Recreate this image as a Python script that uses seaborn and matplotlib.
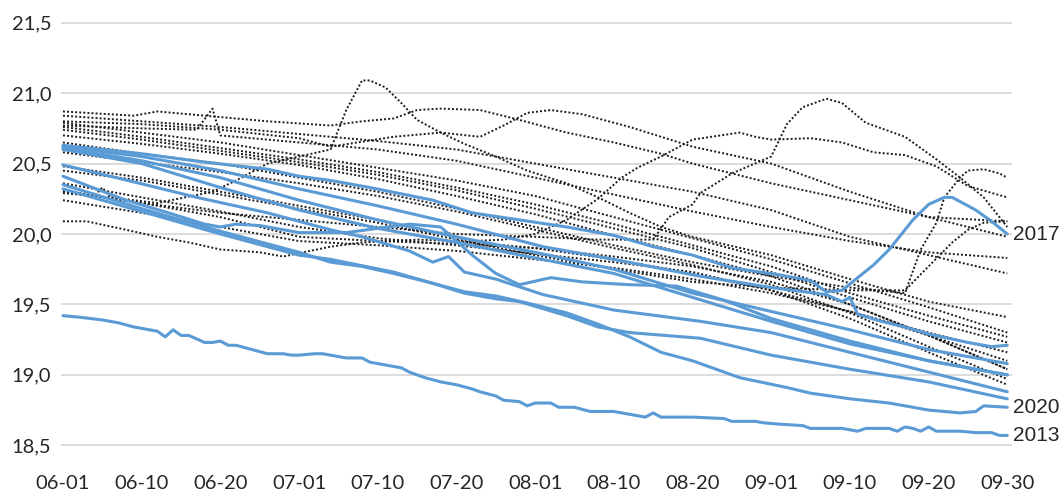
import matplotlib
matplotlib.use("Agg")
import matplotlib.pyplot as plt
import seaborn as sns

# x axis: day index from 06-01 (0) to 09-30 (120), labels every 10 steps
tick_pos = [0, 10, 20, 30, 40, 50, 60, 70, 80, 90, 100, 110, 120]
tick_labels = ['06-01', '06-10', '06-20', '07-01', '07-10', '07-20', '08-01',
               '08-10', '08-20', '09-01', '09-10', '09-20', '09-30']
y_ticks = [18.5, 19.0, 19.5, 20.0, 20.5, 21.0, 21.5]
y_labels = ['18,5', '19,0', '19,5', '20,0', '20,5', '21,0', '21,5']

# ---- highlighted years (blue) ----
x_2017 = [0, 10, 18, 26, 30, 34, 39, 47, 52, 58, 64, 70, 75, 80, 85, 91, 95, 97, 99, 101,
          103, 105, 107, 108, 110, 112, 113, 116, 118, 120]
v_2017 = [20.63, 20.57, 20.51, 20.46, 20.41, 20.38, 20.33, 20.24, 20.15, 20.10, 20.05, 19.99,
          19.91, 19.85, 19.76, 19.71, 19.67, 19.59, 19.60, 19.69, 19.78, 19.89, 20.03, 20.10,
          20.21, 20.26, 20.26, 20.17, 20.09, 20.00]

x_2020 = [0, 10, 20, 30, 34, 42, 47, 51, 55, 59, 64, 68, 72, 76, 80, 86, 92, 95, 100, 105,
          110, 114, 116, 117, 120]
v_2020 = [20.32, 20.16, 20.00, 19.85, 19.82, 19.73, 19.65, 19.59, 19.56, 19.51, 19.44, 19.36,
          19.27, 19.16, 19.10, 18.98, 18.91, 18.87, 18.83, 18.80, 18.75, 18.73, 18.74, 18.78, 18.77]

x_2013 = [0, 2, 5, 7, 9, 11, 12, 13, 14, 15, 16, 18, 19, 20, 21, 22, 24, 26, 28, 29, 30, 32,
          33, 34, 36, 38, 39, 41, 43, 44, 46, 48, 50, 52, 53, 55, 56, 58, 59, 60, 62, 63, 65,
          67, 70, 72, 74, 75, 76, 80, 84, 85, 88, 89, 91, 94, 95, 99, 101, 102, 105, 106, 107,
          108, 109, 110, 111, 114, 116, 118, 119, 120]
v_2013 = [19.42, 19.41, 19.39, 19.37, 19.34, 19.32, 19.31, 19.27, 19.32, 19.28, 19.28, 19.23,
          19.23, 19.24, 19.21, 19.21, 19.18, 19.15, 19.15, 19.14, 19.14, 19.15, 19.15, 19.14,
          19.12, 19.12, 19.09, 19.07, 19.05, 19.02, 18.98, 18.95, 18.93, 18.90, 18.88, 18.85,
          18.82, 18.81, 18.78, 18.80, 18.80, 18.77, 18.77, 18.74, 18.74, 18.72, 18.70, 18.73,
          18.70, 18.70, 18.69, 18.67, 18.67, 18.66, 18.65, 18.64, 18.62, 18.62, 18.60, 18.62,
          18.62, 18.60, 18.63, 18.62, 18.60, 18.63, 18.60, 18.60, 18.59, 18.59, 18.57, 18.57]

x_blue_a = [0, 10, 20, 30, 40, 50, 61, 70, 81, 90, 97, 99, 100, 101, 104, 107, 110, 115, 118, 120]
v_blue_a = [20.62, 20.55, 20.45, 20.32, 20.20, 20.07, 19.91, 19.82, 19.70, 19.62, 19.57, 19.52,
            19.55, 19.43, 19.38, 19.34, 19.29, 19.23, 19.20, 19.21]

v_blue_b = [20.61, 20.52, 20.40, 20.24, 20.10, 19.98, 19.87, 19.75, 19.58, 19.45, 19.32, 19.18, 19.08]
v_blue_c = [20.60, 20.50, 20.33, 20.17, 20.04, 19.94, 19.83, 19.72, 19.55, 19.38, 19.22, 19.10, 19.00]

x_blue_d = [0, 8, 14, 18, 20, 22, 25, 30, 36, 40, 44, 48, 52, 55, 58, 62, 66, 72, 78, 84, 90,
            100, 110, 120]
v_blue_d = [20.41, 20.24, 20.14, 20.07, 20.05, 20.07, 20.06, 20.01, 20.01, 20.04, 20.07, 20.05,
            19.85, 19.72, 19.64, 19.69, 19.66, 19.64, 19.63, 19.53, 19.40, 19.24, 19.10, 19.00]

x_blue_e = [0, 9, 17, 26, 34, 38, 44, 47, 49, 51, 55, 61, 70, 81, 90, 100, 110, 120]
v_blue_e = [20.49, 20.37, 20.26, 20.15, 20.03, 19.98, 19.88, 19.80, 19.84, 19.73, 19.68, 19.57,
            19.46, 19.38, 19.30, 19.16, 19.02, 18.88]

x_blue_f = [0, 10, 20, 30, 34, 38, 42, 47, 51, 55, 58, 64, 68, 72, 81, 90, 100, 110, 120]
v_blue_f = [20.35, 20.18, 20.02, 19.87, 19.80, 19.77, 19.72, 19.65, 19.58, 19.54, 19.52, 19.42,
            19.34, 19.30, 19.26, 19.14, 19.04, 18.95, 18.83]

# ---- other years (black dotted) ----
x_dot_hump1 = [0, 9, 12, 18, 26, 34, 38, 42, 45, 48, 53, 58, 64, 70, 76, 80, 90, 100, 110, 120]
v_dot_hump1 = [20.87, 20.84, 20.87, 20.84, 20.80, 20.77, 20.80, 20.82, 20.88, 20.89, 20.88,
               20.81, 20.72, 20.65, 20.57, 20.50, 20.36, 20.24, 20.12, 20.09]

x_dot_hump2 = [0, 10, 20, 30, 34, 42, 48, 53, 56, 59, 62, 66, 72, 76, 80, 90, 100, 110, 120]
v_dot_hump2 = [20.80, 20.78, 20.74, 20.68, 20.62, 20.69, 20.72, 20.69, 20.77, 20.86, 20.88,
               20.85, 20.76, 20.69, 20.62, 20.50, 20.30, 20.12, 19.98]

x_dot_sept = [0, 10, 20, 30, 40, 50, 60, 68, 75, 77, 80, 81, 85, 90, 92, 94, 97, 99, 102, 107,
              111, 114, 117, 120]
v_dot_sept = [20.30, 20.22, 20.15, 20.10, 20.05, 20.00, 19.98, 19.96, 19.96, 20.12, 20.21, 20.29,
              20.43, 20.55, 20.78, 20.90, 20.96, 20.93, 20.79, 20.69, 20.53, 20.40, 20.26, 20.05]

x_dot_july = [0, 4, 5, 6, 12, 19, 22, 26, 30, 34, 36, 38, 39, 41, 43, 45, 48, 51, 55, 59, 64,
              68, 72, 76, 80, 90, 100, 110, 120]
v_dot_july = [20.29, 20.27, 20.33, 20.26, 20.22, 20.30, 20.38, 20.50, 20.55, 20.60, 20.88,
              21.09, 21.09, 21.04, 20.93, 20.81, 20.72, 20.64, 20.55, 20.45, 20.36, 20.26, 20.15,
              20.05, 19.98, 19.85, 19.68, 19.52, 19.41]

x_dot_june = [0, 10, 17, 19, 20, 30, 40, 50, 60, 70, 80, 90, 100, 110, 120]
v_dot_june = [20.77, 20.75, 20.74, 20.89, 20.70, 20.65, 20.60, 20.52, 20.40, 20.28, 20.16,
              20.05, 19.95, 19.87, 19.83]

x_dot_rise1 = [0, 10, 20, 30, 40, 50, 60, 70, 80, 90, 100, 107, 109, 111, 112, 114, 115, 117,
               119, 120]
v_dot_rise1 = [20.65, 20.57, 20.50, 20.40, 20.30, 20.18, 20.05, 19.92, 19.80, 19.70, 19.62,
               19.58, 19.89, 20.08, 20.26, 20.40, 20.45, 20.46, 20.43, 20.40]

x_dot_rise2 = [0, 10, 20, 30, 40, 50, 60, 70, 80, 90, 100, 107, 110, 113, 115, 117, 120]
v_dot_rise2 = [20.45, 20.38, 20.28, 20.18, 20.08, 19.96, 19.85, 19.75, 19.66, 19.62, 19.60,
               19.60, 19.77, 19.94, 20.03, 20.08, 20.09]

x_dot_rise3 = [0, 10, 20, 30, 40, 48, 52, 56, 60, 64, 68, 71, 73, 76, 80, 86, 88, 90, 95, 99,
               103, 107, 111, 115, 120]
v_dot_rise3 = [20.48, 20.40, 20.30, 20.20, 20.10, 20.00, 19.95, 19.96, 20.00, 20.10, 20.25,
               20.40, 20.47, 20.55, 20.67, 20.72, 20.69, 20.67, 20.68, 20.65, 20.58, 20.56,
               20.48, 20.34, 20.26]

x_dot_low = [0, 3, 8, 12, 16, 20, 25, 28, 34, 38, 45, 50, 60, 70, 80, 90, 100, 110, 120]
v_dot_low = [20.09, 20.09, 20.03, 19.98, 19.94, 19.89, 19.87, 19.84, 19.91, 19.94, 19.96, 19.95,
             19.90, 19.82, 19.72, 19.60, 19.45, 19.30, 19.16]

v_dot_a = [20.84, 20.80, 20.76, 20.71, 20.66, 20.60, 20.50, 20.40, 20.30, 20.17, 19.98, 19.85, 19.72]
v_dot_b = [20.79, 20.72, 20.65, 20.56, 20.47, 20.38, 20.27, 20.12, 19.97, 19.82, 19.65, 19.48, 19.30]
v_dot_c = [20.76, 20.69, 20.61, 20.53, 20.44, 20.33, 20.21, 20.07, 19.92, 19.77, 19.58, 19.42, 19.27]
v_dot_d = [20.74, 20.67, 20.59, 20.51, 20.42, 20.31, 20.18, 20.04, 19.90, 19.73, 19.55, 19.38, 19.23]
v_dot_e = [20.70, 20.64, 20.57, 20.49, 20.39, 20.27, 20.14, 19.99, 19.85, 19.70, 19.50, 19.28, 19.04]
v_dot_f = [20.58, 20.51, 20.44, 20.36, 20.27, 20.16, 20.03, 19.90, 19.78, 19.64, 19.44, 19.20, 18.97]
v_dot_g = [20.36, 20.26, 20.16, 20.05, 19.97, 19.92, 19.86, 19.80, 19.73, 19.60, 19.40, 19.16, 18.93]
v_dot_h = [20.31, 20.22, 20.12, 19.98, 19.95, 19.93, 19.90, 19.84, 19.77, 19.66, 19.50, 19.28, 19.10]
v_dot_i = [20.24, 20.15, 20.05, 19.95, 19.92, 19.88, 19.82, 19.76, 19.68, 19.58, 19.45, 19.28, 19.04]

BLUE = '#5b9bd5'
DOT = '#1c1c1c'
TEXT = '#262626'

sns.set_style('white')
plt.rcParams['font.family'] = ['Lato', 'DejaVu Sans']

fig = plt.figure(figsize=(10.62, 4.91), dpi=100)
ax = fig.add_axes([61 / 1062, 1 - 446 / 491, 951 / 1062, 424 / 491])

dotted = [
    (x_dot_hump1, v_dot_hump1), (x_dot_hump2, v_dot_hump2), (x_dot_sept, v_dot_sept),
    (x_dot_july, v_dot_july), (x_dot_june, v_dot_june), (x_dot_rise1, v_dot_rise1),
    (x_dot_rise2, v_dot_rise2), (x_dot_rise3, v_dot_rise3), (x_dot_low, v_dot_low),
    (tick_pos, v_dot_a), (tick_pos, v_dot_b), (tick_pos, v_dot_c), (tick_pos, v_dot_d),
    (tick_pos, v_dot_e), (tick_pos, v_dot_f), (tick_pos, v_dot_g), (tick_pos, v_dot_h),
    (tick_pos, v_dot_i),
]
for xs, vs in dotted:
    sns.lineplot(x=xs, y=vs, ax=ax, color=DOT, lw=1.4, errorbar=None,
                 linestyle=(0, (1, 1.1)))

blue = [
    (x_2013, v_2013), (x_blue_f, v_blue_f), (x_blue_e, v_blue_e), (x_2020, v_2020),
    (x_blue_d, v_blue_d), (tick_pos, v_blue_c), (tick_pos, v_blue_b),
    (x_blue_a, v_blue_a), (x_2017, v_2017),
]
for xs, vs in blue:
    sns.lineplot(x=xs, y=vs, ax=ax, color=BLUE, lw=2.2, errorbar=None)

for year, xs, vs in [('2017', x_2017, v_2017), ('2020', x_2020, v_2020), ('2013', x_2013, v_2013)]:
    ax.text(120.75, vs[-1], year, ha='left', va='center', fontsize=15,
            family='Liberation Sans', color=TEXT, clip_on=False)

ax.set_xlim(-0.25, 120.6)
ax.set_ylim(18.495, 21.505)
ax.set_yticks(y_ticks, y_labels)
ax.set_xticks(tick_pos, tick_labels)
ax.yaxis.grid(True, color='#d9d9d9', lw=1.3)
ax.xaxis.grid(False)
ax.set_axisbelow(True)
for s in ax.spines.values():
    s.set_visible(False)
ax.tick_params(axis='y', length=0, pad=7, labelsize=14.5, labelcolor=TEXT)
ax.tick_params(axis='x', length=0, pad=21, labelsize=14.5, labelcolor=TEXT)
ax.set_xlabel('')
ax.set_ylabel('')

fig.savefig('out.png', dpi=100)
